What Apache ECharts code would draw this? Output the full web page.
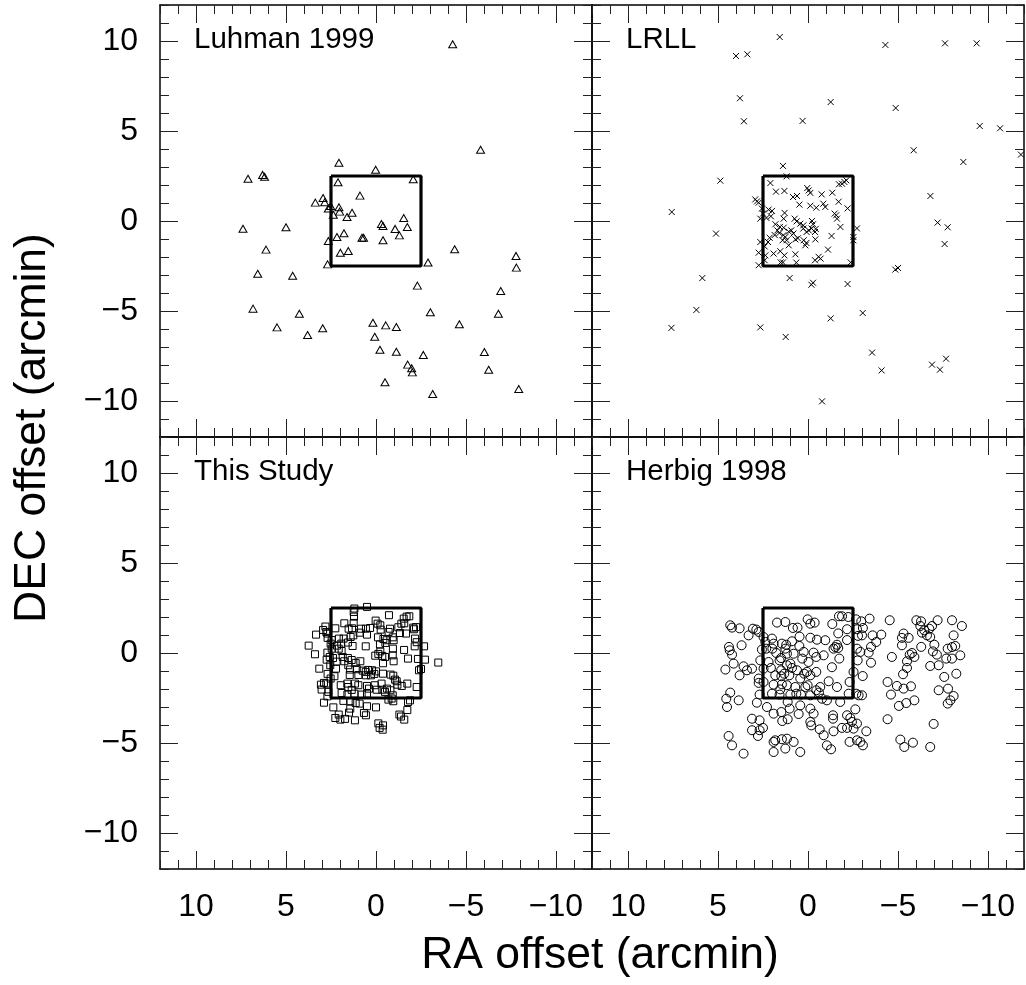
<!DOCTYPE html>
<html>
<head>
<meta charset="utf-8">
<script src="https://cdn.jsdelivr.net/npm/echarts@6/dist/echarts.min.js"></script>
<style>
html,body{margin:0;padding:0;background:#fff;}
#chart{width:1026px;height:985px;}
</style>
</head>
<body>
<div id="chart"></div>
<script>
// ---------- data ----------
const tickValues = [-10, -5, 0, 5, 10];
const axisMin = -12, axisMax = 12;
const boxCorners = [[2.5, 2.5], [-2.5, 2.5], [-2.5, -2.5], [2.5, -2.5], [2.5, 2.5]];
const panelTitles = ['Luhman 1999', 'LRLL', 'This Study', 'Herbig 1998'];
const xTitle = 'RA offset (arcmin)';
const yTitle = 'DEC offset (arcmin)';

// [RA offset, DEC offset] in arcmin
const luhman1999 = [[-4.26,9.82],[-5.81,3.96],[2.06,3.24],[0.02,2.85],[7.11,2.35],[6.30,2.56],[6.19,2.46],[-2.07,2.32],[2.11,2.15],[0.89,1.41],[2.94,1.28],[3.37,1.02],[2.85,1.04],[2.65,0.69],[2.52,0.83],[2.06,0.76],[2.02,0.52],[2.37,0.35],[1.33,0.46],[1.61,0.22],[7.39,-0.43],[5.0,-0.35],[-0.30,-0.17],[-0.39,-0.28],[-1.54,0.17],[-1.74,-0.33],[-1.06,-0.44],[-1.30,-0.80],[1.78,-0.68],[2.17,-0.89],[0.78,-0.93],[0.69,-0.93],[-0.39,-1.07],[2.65,-1.11],[6.11,-1.59],[-4.37,-1.57],[1.98,-1.76],[1.54,-1.67],[-7.78,-1.94],[2.69,-2.41],[-2.89,-2.31],[-7.80,-2.59],[6.57,-2.93],[4.63,-3.04],[-2.30,-3.59],[-6.93,-3.89],[6.83,-4.87],[4.26,-5.15],[-3.02,-5.07],[-6.80,-5.15],[5.50,-5.91],[3.80,-6.33],[2.96,-5.96],[0.17,-5.65],[-0.54,-5.80],[-1.13,-5.89],[-4.63,-5.74],[0.07,-6.43],[-0.22,-7.15],[-1.13,-7.26],[-2.63,-7.44],[-6.02,-7.28],[-1.76,-7.98],[-1.98,-8.18],[-2.02,-8.41],[-6.26,-8.26],[-0.5,-8.96],[-3.15,-9.61],[-7.93,-9.33]];

const lrll = [[1.57,10.22],[4.0,9.17],[3.37,9.26],[-4.30,9.78],[-7.61,9.87],[-9.37,9.87],[3.78,6.82],[-1.26,6.61],[-4.87,6.28],[3.56,5.54],[0.30,5.56],[-9.54,5.28],[-10.67,5.15],[-5.87,3.93],[-11.83,3.69],[-8.63,3.28],[1.39,3.06],[4.87,2.24],[-6.80,1.39],[7.57,0.50],[-7.20,-0.09],[-7.76,-0.35],[5.11,-0.70],[-2.72,-0.41],[-7.59,-1.28],[-4.85,-2.70],[-5.0,-2.61],[5.87,-3.17],[1.02,-3.17],[-0.19,-3.54],[-0.28,-3.43],[-2.20,-3.50],[6.20,-4.94],[-3.04,-5.11],[-1.26,-5.41],[7.59,-5.94],[2.65,-5.91],[1.24,-6.44],[-3.56,-7.31],[-4.09,-8.30],[-6.89,-7.98],[-7.33,-8.26],[-7.67,-7.65],[-0.78,-10.02],
[2.09,2.11],[1.78,1.63],[1.31,1.67],[1.19,2.48],[0.83,1.33],[0.61,1.39],[0.48,0.91],[0.04,1.83],[-0.04,1.70],[-0.13,1.56],[-0.76,1.48],[-1.35,1.57],[-1.72,2.04],[-1.89,2.07],[-2.02,2.17],[-2.13,2.26],[-0.13,0.85],[-0.46,0.74],[-0.85,0.96],[-0.96,0.78],[-1.70,1.07],[-2.20,0.70],[2.93,1.20],[2.83,1.09],[2.74,1.02],[2.56,0.69],[2.50,0.41],[2.65,0.13],[2.19,0.63],[2.0,0.56],[2.06,0.26],[2.31,0.17],[1.30,0.45],[1.35,0.13],[0.74,0.13],[0.63,-0.02],[0.43,-0.15],[0.26,-0.24],[-0.22,0.0],[-0.28,-0.18],[-0.04,-0.52],[-0.43,-0.44],[-1.48,0.41],[-1.57,0.32],[-1.61,0.13],[-1.80,-0.33],[1.81,-0.18],[1.70,-0.52],[1.59,-0.67],[1.85,-0.78],[1.35,-0.37],[1.07,-0.59],[0.93,-0.52],[0.81,-0.70],[2.13,-0.93],[2.22,-1.17],[1.26,-0.89],[1.41,-1.07],[1.07,-1.35],[0.70,-1.02],[0.56,-0.96],[0.24,-1.07],[0.09,-1.22],[0.15,-1.35],[-0.41,-1.02],[-1.31,-0.83],[2.65,-1.17],[2.74,-1.76],[2.41,-1.41],[1.91,-1.81],[1.54,-1.68],[1.31,-1.91],[1.39,-2.30],[2.37,-1.91],[2.74,-2.46],[2.41,-2.18],[0.70,-1.85],[0.65,-2.31],[1.52,-2.30],[-0.39,-2.18],[-0.59,-1.99],[-0.70,-2.09],[-1.11,-1.59],[-2.37,-2.30],[-2.52,-0.89],[-2.52,-1.07],[1.56,-0.33],[1.37,-0.79],[0.26,-0.42],[0.08,-0.61],[-0.2,-0.42],[-0.39,-0.61],[1.19,-1.07]];

const thisStudy = [[1.20,2.47],[0.50,2.56],[1.24,2.28],[1.22,2.02],[-0.72,2.10],[-1.85,2.04],[-1.70,2.02],[-1.54,1.91],[0.02,1.80],[-0.09,1.63],[-0.24,1.54],[1.76,1.65],[1.24,1.67],[-1.41,1.63],[-1.57,1.65],[-1.24,1.43],[2.81,1.47],[2.26,1.37],[-2.07,1.41],[-2.22,1.44],[2.94,1.28],[2.76,1.17],[1.52,1.35],[1.33,1.37],[0.83,1.35],[0.56,1.35],[0.33,1.39],[-0.78,1.35],[-0.26,1.30],[0.91,1.13],[0.50,1.02],[-0.11,0.87],[-0.70,1.17],[-1.67,1.08],[-1.33,1.11],[-2.11,1.32],[3.33,1.02],[2.70,1.08],[2.69,0.84],[2.06,0.80],[1.80,0.80],[1.41,0.89],[1.26,0.98],[2.46,0.72],[-0.41,0.78],[-0.59,0.71],[-0.93,0.87],[-0.98,0.71],[-0.52,0.56],[-2.17,0.80],[-2.26,0.60],[3.74,0.41],[2.52,0.52],[2.17,0.41],[1.93,0.52],[1.56,0.58],[1.30,0.39],[0.57,0.37],[-0.22,0.47],[-0.94,0.24],[-1.56,0.17],[-2.15,0.37],[-2.67,0.37],[2.46,0.24],[2.07,0.24],[3.39,-0.07],[2.70,0.02],[1.91,0.11],[2.57,-0.22],[2.39,-0.28],[1.85,-0.22],[1.56,-0.28],[0.04,-0.15],[-0.13,-0.05],[-0.35,-0.16],[-0.50,-0.22],[-0.93,-0.13],[-1.78,-0.31],[-2.33,-0.33],[-2.72,-0.37],[-0.24,0.09],[2.74,-0.37],[2.19,-0.48],[1.76,-0.46],[1.35,-0.39],[1.13,-0.55],[1.54,-0.68],[0.87,-0.46],[-0.39,-0.57],[-0.98,-0.46],[-3.46,-0.53],[3.15,-0.87],[2.54,-0.68],[2.22,-0.87],[1.44,-0.92],[1.07,-0.90],[0.74,-0.98],[0.44,-0.94],[0.22,-0.96],[0.0,-1.02],[0.57,-1.05],[2.69,-1.16],[2.31,-1.29],[2.52,-1.42],[1.46,-1.22],[0.98,-1.22],[0.56,-1.24],[0.28,-1.24],[0.09,-1.16],[-0.39,-1.15],[-0.81,-1.20],[-0.96,-1.26],[-1.06,-1.48],[-2.39,-0.96],[-2.50,-0.89],[-1.15,-1.57],[2.89,-1.66],[3.06,-1.76],[2.76,-1.70],[1.96,-1.79],[1.59,-1.70],[1.54,-1.89],[1.17,-1.70],[0.98,-1.79],[0.50,-1.83],[0.07,-1.79],[-0.31,-1.70],[-1.19,-1.76],[-1.43,-1.83],[-1.74,-1.70],[-2.26,-1.89],[3.02,-2.03],[2.65,-2.16],[1.91,-2.22],[1.59,-2.31],[1.35,-2.05],[1.20,-2.26],[0.80,-2.31],[0.50,-2.26],[0.39,-1.98],[-0.04,-2.04],[-0.35,-2.04],[-0.50,-2.16],[-0.61,-1.98],[-0.80,-2.07],[-0.93,-2.35],[2.70,-2.41],[-0.87,-2.53],[2.89,-2.76],[1.81,-2.66],[1.43,-2.68],[1.13,-2.78],[0.91,-2.81],[0.50,-2.96],[0.0,-3.02],[-0.69,-2.59],[-0.96,-2.68],[-1.78,-2.72],[-1.89,-2.63],[2.37,-3.02],[1.43,-3.09],[1.50,-3.31],[2.07,-3.42],[1.98,-3.70],[1.72,-3.66],[2.26,-3.61],[1.17,-3.74],[0.67,-3.33],[0.56,-3.46],[-1.30,-3.42],[-1.39,-3.53],[-1.57,-3.70],[-1.74,-3.17],[-0.13,-3.91],[-0.39,-4.02],[-0.20,-4.16],[-0.37,-4.26]];

const herbig1998 = [[1.72,1.69],[1.26,1.72],[0.84,1.39],[0.58,1.41],[0.02,1.87],[-0.13,1.63],[-0.37,1.69],[-1.35,1.61],[-1.72,2.04],[-1.89,2.04],[-2.24,2.0],[-2.67,1.87],[4.32,1.54],[4.22,1.41],[3.80,1.37],[3.06,1.35],[2.87,1.30],[2.74,1.17],[3.30,0.98],[-2.17,1.32],[-1.68,1.09],[-2.72,1.32],[2.47,0.89],[2.0,0.80],[2.37,0.61],[1.91,0.52],[1.45,0.52],[1.21,0.46],[0.89,0.65],[0.47,0.91],[-0.13,0.85],[-0.5,0.74],[-0.96,0.71],[-1.61,0.46],[-1.52,0.33],[-2.17,0.72],[-2.78,0.95],[3.69,0.43],[4.39,0.34],[4.35,0.15],[4.22,-0.09],[2.32,0.24],[0.48,0.39],[1.26,0.24],[2.56,0.19],[1.98,0.24],[1.76,0.0],[1.50,-0.28],[1.58,-0.41],[1.17,-0.04],[0.80,-0.04],[0.24,0.06],[-0.31,0.02],[-0.46,-0.22],[-0.87,-0.13],[-1.68,0.28],[-1.42,0.24],[-2.72,0.24],[-1.74,-0.31],[0.32,-0.31],[-0.03,-0.50],[0.98,-0.59],[1.17,-0.68],[0.89,-0.83],[0.61,-0.96],[2.65,-0.41],[2.19,-0.50],[3.58,-0.74],[4.13,-0.59],[4.59,-0.92],[3.11,-0.87],[3.39,-0.96],[2.47,-0.87],[2.06,-0.83],[1.49,-0.96],[1.32,-1.15],[1.04,-1.24],[0.06,-1.05],[0.21,-1.15],[-0.46,-1.05],[-1.33,-0.79],[-0.13,-1.24],[0.43,-1.42],[1.82,-1.24],[1.48,-1.29],[3.80,-1.24],[2.74,-1.42],[2.47,-1.61],[2.74,-1.66],[1.91,-1.76],[1.45,-1.74],[1.17,-1.79],[0.71,-1.89],[0.15,-1.89],[0.02,-1.79],[-0.68,-1.89],[-1.15,-1.57],[-1.61,-1.89],[-2.53,-1.05],[-2.31,-1.61],[4.32,-2.20],[4.54,-2.54],[4.50,-3.0],[3.85,-2.63],[2.84,-2.76],[2.0,-2.26],[1.58,-2.31],[0.98,-2.31],[0.65,-2.26],[0.39,-2.31],[-0.13,-2.35],[-0.46,-2.07],[-0.61,-2.20],[-0.78,-2.54],[-1.05,-2.63],[-1.79,-2.72],[-2.26,-2.26],[-2.68,-2.26],[2.69,-2.31],[1.54,-2.02],[2.28,-3.0],[1.13,-2.72],[1.91,-3.37],[1.48,-3.28],[1.02,-3.09],[0.52,-3.39],[0.43,-2.91],[-0.13,-3.09],[-0.31,-3.37],[-0.13,-3.83],[-0.18,-4.02],[1.43,-3.78],[1.13,-3.68],[3.11,-3.65],[2.69,-3.74],[-1.39,-3.46],[-1.39,-3.65],[-2.17,-3.46],[-2.35,-3.61],[-2.63,-3.13],[-1.89,-4.16],[-2.17,-4.16],[-2.53,-4.20],[3.11,-4.29],[2.69,-4.29],[2.50,-4.16],[2.78,-4.61],[4.41,-4.61],[4.22,-5.13],[3.58,-5.59],[1.91,-4.94],[1.82,-4.85],[1.45,-4.79],[1.17,-4.76],[0.80,-4.94],[1.26,-5.31],[1.91,-5.50],[0.43,-5.50],[-0.87,-4.57],[-1.42,-4.35],[-1.05,-5.13],[-1.28,-5.35],[-2.31,-4.94],[-2.72,-4.85],[-0.65,-4.24],
[-2.96,1.76],[-3.42,1.91],[-4.54,1.82],[-3.05,1.39],[-3.0,0.98],[-3.59,0.98],[-4.07,1.02],[-3.79,0.61],[-3.50,0.34],[-2.91,0.06],[-3.37,0.02],[-2.76,-0.41],[-3.50,-0.54],[-4.66,-0.22],[-6.02,1.82],[-6.28,1.76],[-6.24,1.50],[-6.46,1.26],[-6.74,1.35],[-6.89,1.50],[-7.20,1.82],[-8.0,1.82],[-8.55,1.50],[-5.31,1.08],[-5.22,0.84],[-5.59,0.84],[-5.22,0.43],[-6.33,1.13],[-6.61,0.98],[-6.79,0.89],[-6.29,0.34],[-7.02,0.46],[-7.16,-0.09],[-6.94,0.09],[-5.78,0.0],[-5.91,-0.22],[-5.65,-0.09],[-5.50,-0.46],[-6.79,-0.72],[-7.26,-0.68],[-8.09,0.98],[-7.76,0.24],[-8.0,0.33],[-8.18,0.39],[-7.68,-0.31],[-8.0,-0.31],[-8.46,-0.13],[-5.50,-0.83],[-5.28,-1.18],[-8.24,-1.15],[-7.57,-1.33],[-4.42,-1.61],[-4.94,-1.83],[-5.31,-1.98],[-5.72,-1.85],[-4.61,-2.31],[-7.26,-2.07],[-7.78,-1.98],[-8.09,-2.39],[-7.91,-2.63],[-7.76,-2.81],[-5.05,-2.94],[-5.46,-2.78],[-5.91,-2.63],[-3.04,-1.28],[-2.81,-2.35],[-3.0,-2.35],[-2.44,-3.83],[-2.72,-3.92],[-3.24,-4.35],[-2.91,-4.94],[-3.05,-5.13],[-4.42,-3.68],[-6.98,-3.94],[-5.13,-4.81],[-5.35,-5.22],[-5.83,-4.98],[-6.79,-5.22]];

// ---------- layout ----------
const FONT = '"Liberation Sans", Arial, Helvetica, sans-serif';
const grids = [
  {left: 160, top: 5, width: 432, height: 432},
  {left: 592, top: 5, width: 432, height: 432},
  {left: 160, top: 437, width: 432, height: 432},
  {left: 592, top: 437, width: 432, height: 432}
];
const datasets = [luhman1999, lrll, thisStudy, herbig1998];
const symbols = [
  {symbol: 'triangle', size: [8, 7]},
  {symbol: 'path://M0,0L10,10M10,0L0,10', size: 6},
  {symbol: 'rect', size: 7},
  {symbol: 'circle', size: 9}
];

const fmt = v => (v < 0 ? '\u2212' + (-v) : String(v));
const lineStyle = {color: '#000', width: 1.5};

const xAxes = [], yAxes = [], series = [];
grids.forEach((g, i) => {
  const showX = i >= 2, showY = (i % 2 === 0);
  ['bottom', 'top'].forEach(pos => {
    xAxes.push({
      gridIndex: i, type: 'value', inverse: true, min: axisMin, max: axisMax, interval: 1,
      position: pos, axisLine: {show: true, onZero: false, lineStyle},
      axisTick: {show: true, inside: true, length: 9, lineStyle: {color: '#222', width: 1}},
      axisLabel: {show: pos === 'bottom' && showX, customValues: tickValues, formatter: fmt,
        margin: 22, fontSize: 32, color: '#000', fontFamily: FONT},
      splitLine: {show: false}
    });
    xAxes.push({
      gridIndex: i, type: 'value', inverse: true, min: axisMin, max: axisMax,
      position: pos, axisLine: {show: false, onZero: false},
      axisTick: {show: true, inside: true, length: 18, customValues: tickValues, lineStyle: {color: '#222', width: 1}},
      axisLabel: {show: false}, splitLine: {show: false}
    });
  });
  ['left', 'right'].forEach(pos => {
    yAxes.push({
      gridIndex: i, type: 'value', min: axisMin, max: axisMax, interval: 1,
      position: pos, axisLine: {show: true, onZero: false, lineStyle},
      axisTick: {show: true, inside: true, length: 9, lineStyle: {color: '#222', width: 1}},
      axisLabel: {show: pos === 'left' && showY, customValues: tickValues, formatter: fmt,
        margin: 22, fontSize: 32, color: '#000', fontFamily: FONT},
      splitLine: {show: false}
    });
    yAxes.push({
      gridIndex: i, type: 'value', min: axisMin, max: axisMax,
      position: pos, axisLine: {show: false, onZero: false},
      axisTick: {show: true, inside: true, length: 18, customValues: tickValues, lineStyle: {color: '#222', width: 1}},
      axisLabel: {show: false}, splitLine: {show: false}
    });
  });
  series.push({
    type: 'scatter', xAxisIndex: 4 * i, yAxisIndex: 4 * i,
    data: datasets[i], symbol: symbols[i].symbol, symbolSize: symbols[i].size,
    itemStyle: {color: 'rgba(0,0,0,0)', borderColor: '#000', borderWidth: 1, opacity: 1},
    emphasis: {disabled: true}, silent: true, animation: false
  });
  series.push({
    type: 'line', xAxisIndex: 4 * i, yAxisIndex: 4 * i, data: boxCorners,
    showSymbol: false, symbol: 'none', lineStyle: {color: '#000', width: 3.2},
    silent: true, animation: false
  });
});

const labelPos = [[194, 25], [626, 25], [194, 457], [626, 457]];
const graphics = panelTitles.map((t, i) => ({
  type: 'text', left: labelPos[i][0], top: labelPos[i][1],
  style: {text: t, font: '29.5px ' + FONT, fill: '#000'}
}));
graphics.push({
  type: 'text', x: 600, y: 956,
  style: {text: xTitle, font: '44.5px ' + FONT, fill: '#000', align: 'center', verticalAlign: 'middle', textAlign: 'center', textVerticalAlign: 'middle'}
});
graphics.push({
  type: 'text', x: 33, y: 428, rotation: Math.PI / 2,
  style: {text: yTitle, font: '44.5px ' + FONT, fill: '#000', align: 'center', verticalAlign: 'middle', textAlign: 'center', textVerticalAlign: 'middle'}
});

const chart = echarts.init(document.getElementById('chart'), null, {renderer: 'canvas'});
chart.setOption({
  animation: false,
  backgroundColor: '#fff',
  grid: grids,
  xAxis: xAxes,
  yAxis: yAxes,
  series: series,
  graphic: graphics
});
</script>
</body>
</html>
